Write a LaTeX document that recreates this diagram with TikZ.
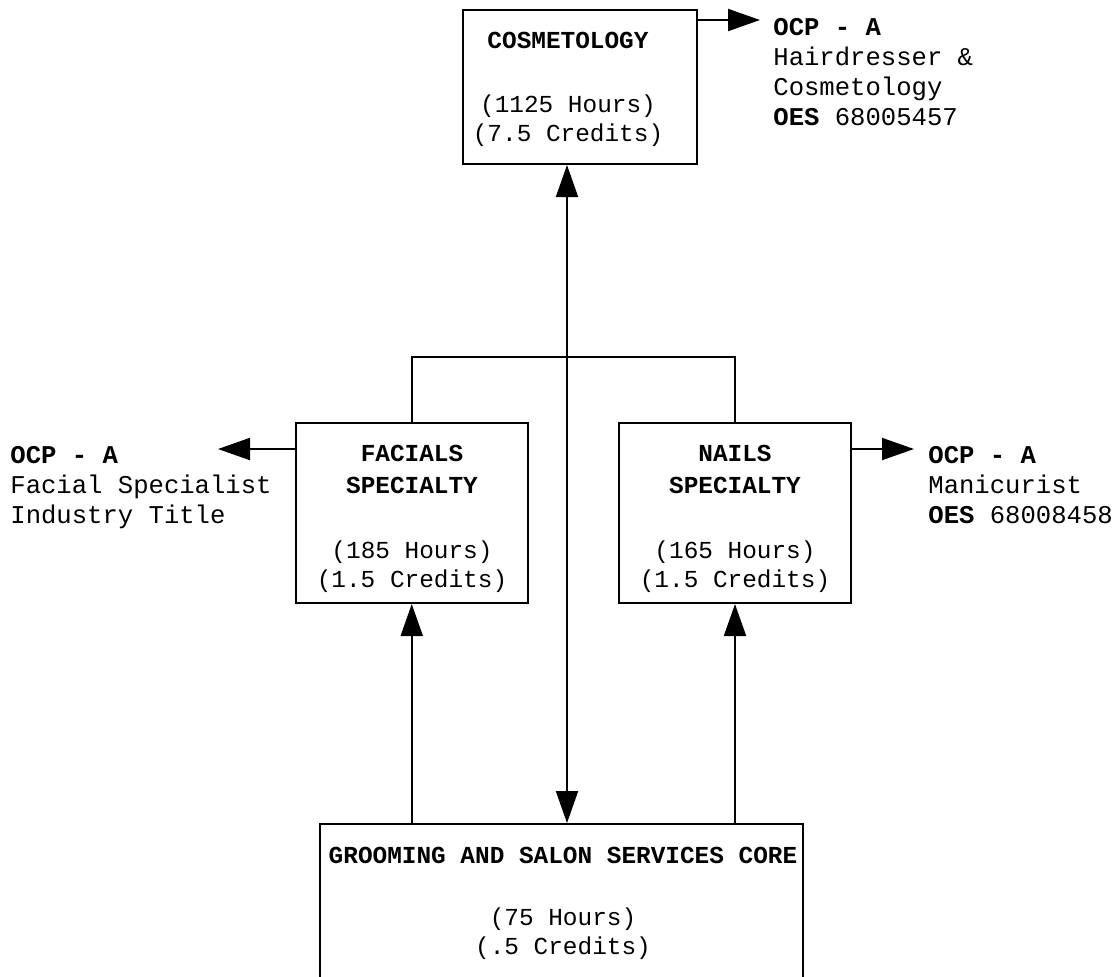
\documentclass[tikz,border=0pt]{standalone}
\usepackage{fontspec}
\setmonofont{Liberation Mono}
\usepackage{tikz}
\usetikzlibrary{positioning, calc, arrows.meta}

\begin{document}
\begin{tikzpicture}[x=0.5pt, y=-0.5pt]
	\tikzstyle{box}=[rectangle, draw=black, line width=1pt, inner sep=0pt]
	\tikzstyle{course}=[align=center, inner sep=0pt, font=\ttfamily\fontsize{12.2}{14.5}\selectfont]
	\tikzstyle{ocp}=[anchor=north west, align=left, inner sep=0pt, font=\ttfamily\fontsize{12.8}{15}\selectfont]
	\tikzstyle{link}=[line width=1pt]
	\tikzstyle{arr}=[line width=1pt, -{Triangle[length=16pt, width=11pt]}]
	\tikzstyle{arrs}=[line width=1pt, {Triangle[length=16pt, width=11pt]}-{Triangle[length=16pt, width=11pt]}]
	
	\clip (0,0) rectangle (1118,976);
	\fill[white] (0,0) rectangle (1118,976);
	
	%% boxes
	\node (cosmo) at (580,87) [box, minimum width=117pt, minimum height=77pt] {};
	\node (facials) at (411.75,513) [box, minimum width=116.25pt, minimum height=90pt] {};
	\node (nails) at (735,513) [box, minimum width=116pt, minimum height=90pt] {};
	\node (core) at (561.5,913) [box, minimum width=241.5pt, minimum height=89pt] {};
	
	\node (cosmotext) at (568,89.5) [course] {\textbf{COSMETOLOGY}\\[17.5pt](1125 Hours)\\(7.5 Credits)};
	\node (facialstext) at (412,518.5) [course] {\textbf{FACIALS}\\[1.5pt]\textbf{SPECIALTY}\\[18pt](185 Hours)\\(1.5 Credits)};
	\node (nailstext) at (735,518.5) [course] {\textbf{NAILS}\\[1.5pt]\textbf{SPECIALTY}\\[18pt](165 Hours)\\(1.5 Credits)};
	\node (coretext) at (563,903) [course] {\textbf{GROOMING AND SALON SERVICES CORE}\\[16.5pt](75 Hours)\\(.5 Credits)};
	
	%% side labels
	\node (ocpcosmo) at (773,18) [ocp] {\textbf{OCP - A}\\Hairdresser \&\\Cosmetology\\\textbf{OES} 68005457};
	\node (ocpfacials) at (10,446) [ocp] {\textbf{OCP - A}\\Facial Specialist\\Industry Title};
	\node (ocpnails) at (928,446) [ocp] {\textbf{OCP - A}\\Manicurist\\\textbf{OES} 68008458};
	
	\coordinate (cosmoout) at (760,20);
	\coordinate (facialsout) at (218,449);
	\coordinate (nailsout) at (914,449);
	\coordinate (spine) at (567,357);
	
	\draw[arr] (cosmo.east |- cosmoout) -- (cosmoout);
	\draw[arr] (facials.west |- facialsout) -- (facialsout);
	\draw[arr] (nails.east |- nailsout) -- (nailsout);
	
	\draw[link] (facials.north) |- (spine) -| (nails.north);
	\draw[arrs] (cosmo.south -| spine) -- (core.north -| spine);
	
	\draw[arr] (core.north -| facials.south) -- (facials.south);
	\draw[arr] (core.north -| nails.south) -- (nails.south);
\end{tikzpicture}
\end{document}
